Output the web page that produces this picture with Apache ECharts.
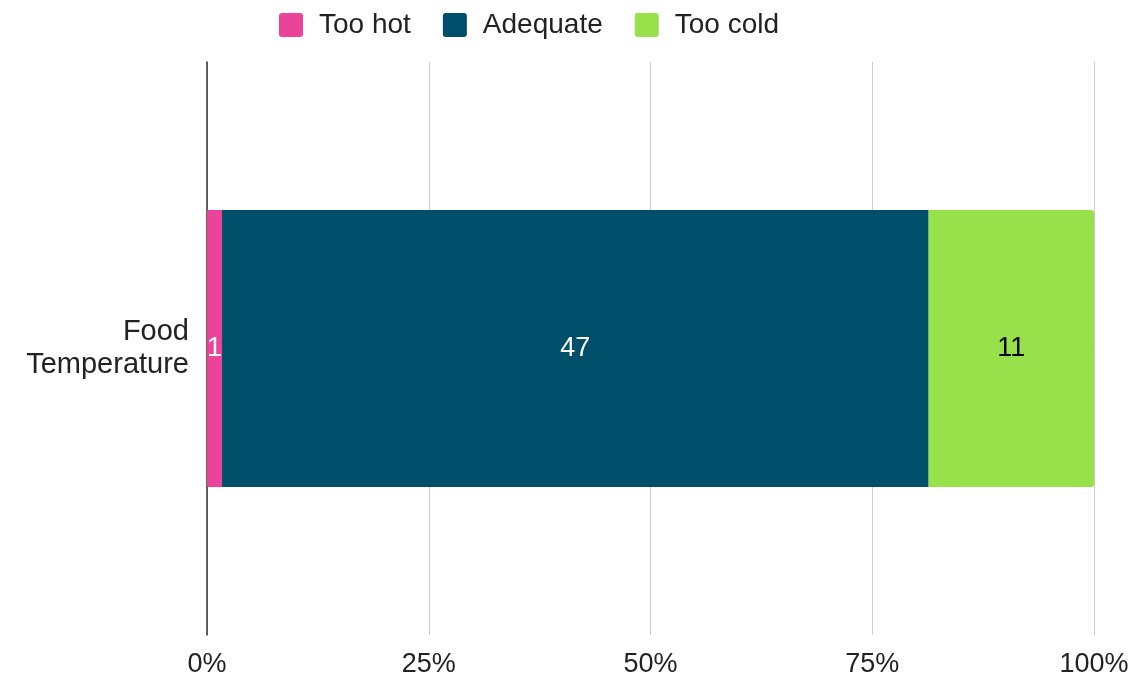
<!DOCTYPE html>
<html>
<head>
<meta charset="utf-8">
<script src="https://cdn.jsdelivr.net/npm/echarts@6/dist/echarts.min.js"></script>
<style>html,body{margin:0;padding:0;background:#fff;}#c{width:1139px;height:678px;}</style>
</head>
<body>
<div id="c"></div>
<script>
const categories = ['Food\nTemperature'];
const seriesNames = ['Too hot', 'Adequate', 'Too cold'];
const tooHot = [1];
const adequate = [47];
const tooCold = [11];
const tickLabels = ['0%', '25%', '50%', '75%', '100%'];
const colors = ['#ea4399', '#004f6a', '#98e14a'];
const labelColors = ['#ffffff', '#ffffff', '#000000'];

const raw = [tooHot, adequate, tooCold];
const totals = categories.map((_, i) => raw.reduce((s, arr) => s + arr[i], 0));
const FONT = "'Liberation Sans', Arial, sans-serif";
const ICON = 'path://M3,0H21Q24,0 24,3V21Q24,24 21,24H3Q0,24 0,21V3Q0,0 3,0Z';

const series = raw.map((arr, k) => ({
  name: seriesNames[k],
  type: 'bar',
  stack: 'total',
  barWidth: '48.3%',
  data: arr.map((v, i) => ({ value: v / totals[i] * 100, raw: v })),
  itemStyle: {
    color: colors[k],
    borderRadius: k === raw.length - 1 ? [0, 3, 3, 0] : 0
  },
  label: {
    show: true,
    position: 'inside',
    color: labelColors[k],
    fontFamily: FONT,
    fontSize: 27,
    formatter: p => p.data.raw
  },
  emphasis: { disabled: true }
}));

const chart = echarts.init(document.getElementById('c'));
chart.setOption({
  animation: false,
  legend: {
    top: 6,
    left: 274,
    itemWidth: 24,
    itemHeight: 24,
    itemGap: 32,
    icon: ICON,
    textStyle: { fontFamily: FONT, fontSize: 28, color: '#222', padding: [0, 0, 0, 11] },
    data: seriesNames
  },
  grid: { left: 207, right: 45, top: 62, bottom: 42, containLabel: false },
  xAxis: {
    type: 'value',
    min: 0,
    max: 100,
    interval: 25,
    axisLine: { show: false },
    axisTick: { show: false },
    splitLine: { lineStyle: { color: '#cccccc', width: 1 } },
    axisLabel: {
      fontFamily: FONT, fontSize: 27, color: '#222', margin: 16,
      formatter: v => tickLabels[Math.round(v / 25)]
    }
  },
  yAxis: {
    type: 'category',
    data: categories,
    axisLine: { show: true, lineStyle: { color: '#333', width: 1.5 } },
    axisTick: { show: false },
    axisLabel: { fontFamily: FONT, fontSize: 29, color: '#222', margin: 18, lineHeight: 33, align: 'right' }
  },
  series: series
});
</script>
</body>
</html>
